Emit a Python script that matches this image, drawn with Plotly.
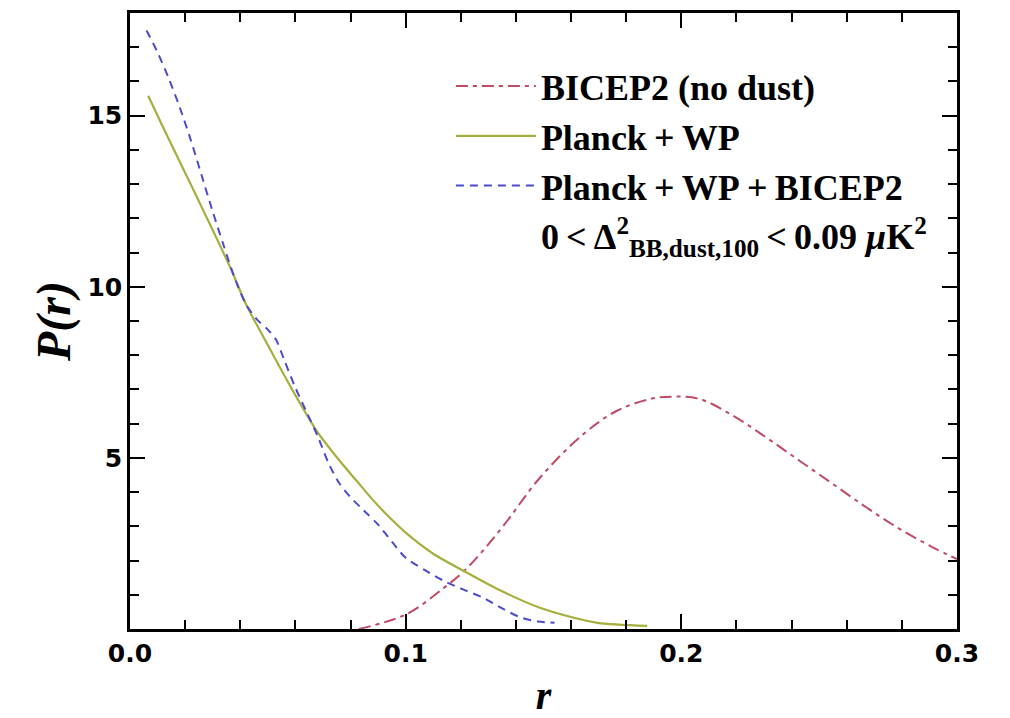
import plotly.graph_objects as go

# BICEP2 (no dust)
r_bicep = [0.083, 0.1002, 0.114, 0.1224, 0.1349, 0.1487, 0.1644, 0.1765, 0.1886, 0.197,
           0.2067, 0.2188, 0.2309, 0.243, 0.2551, 0.2672, 0.2793, 0.2914, 0.300]
p_bicep = [0.0, 0.43, 1.21, 1.79, 2.96, 4.42, 5.69, 6.37, 6.72, 6.79,
           6.72, 6.23, 5.59, 4.91, 4.23, 3.55, 2.92, 2.38, 2.04]

# Planck+WP
r_planck = [0.0066, 0.012, 0.017, 0.022, 0.027, 0.032, 0.037, 0.0423, 0.0483, 0.054,
            0.0605, 0.0677, 0.0762, 0.0822, 0.088, 0.094, 0.1002, 0.110, 0.121, 0.135,
            0.1487, 0.160, 0.1696, 0.1876]
p_planck = [15.58, 14.66, 13.83, 13.0, 12.16, 11.32, 10.45, 9.45, 8.55, 7.7,
            6.76, 5.79, 4.9, 4.33, 3.78, 3.27, 2.8, 2.2, 1.70, 1.1,
            0.62, 0.35, 0.18, 0.09]

# Planck+WP+BICEP2
r_comb = [0.006, 0.010, 0.014, 0.018, 0.022, 0.026, 0.030, 0.034, 0.038, 0.042,
          0.046, 0.050, 0.053, 0.056, 0.060, 0.064, 0.068, 0.072, 0.076, 0.080,
          0.085, 0.090, 0.095, 0.100, 0.107, 0.114, 0.121, 0.128, 0.135, 0.142,
          0.148, 0.154]
p_comb = [17.49, 16.85, 16.1, 15.25, 14.3, 13.25, 12.2, 11.2, 10.25, 9.5,
          9.05, 8.75, 8.45, 7.85, 7.05, 6.35, 5.65, 4.85, 4.25, 3.85,
          3.45, 3.05, 2.55, 2.08, 1.72, 1.40, 1.15, 0.92, 0.6, 0.33,
          0.22, 0.18]

x_ticks = [0.0, 0.1, 0.2, 0.3]
y_ticks = [5, 10, 15]

legend_names = ["BICEP2 (no dust)", "Planck\u2009+\u2009WP", "Planck\u2009+\u2009WP\u2009+\u2009BICEP2",
                "0\u2009<\u2009\u0394<sup>2</sup><sub>BB,dust,100</sub>\u2009<\u20090.09 <i>\u03bc</i>K<sup>2</sup>"]

fig = go.Figure()
fig.add_trace(go.Scatter(x=r_bicep, y=p_bicep, mode="lines", name=legend_names[0],
                         line=dict(color="#c04a66", width=2, dash="12px,5px,4px,5px", shape="spline")))
fig.add_trace(go.Scatter(x=r_planck, y=p_planck, mode="lines", name=legend_names[1],
                         line=dict(color="#a6ae3c", width=2.2, shape="spline", smoothing=0.8)))
fig.add_trace(go.Scatter(x=r_comb, y=p_comb, mode="lines", name=legend_names[2],
                         line=dict(color="#4b4bcc", width=2, dash="8px,6px", shape="spline", smoothing=0.8)))
fig.add_trace(go.Scatter(x=[None], y=[None], mode="lines", name=legend_names[3],
                         line=dict(color="rgba(0,0,0,0)", width=0)))

axis_common = dict(
    showgrid=False, zeroline=False, showline=True, linecolor="black", linewidth=2.5,
    mirror="ticks", ticks="inside", ticklen=15, tickwidth=2, tickcolor="black",
    tickfont=dict(family="DejaVu Sans", size=25, color="black", weight="bold"),
)

fig.update_layout(
    width=1002, height=710,
    margin=dict(l=122, r=53, t=2, b=89),
    paper_bgcolor="white", plot_bgcolor="white",
    xaxis=dict(range=[0, 0.3], tickvals=x_ticks, tickformat=".1f",
               minor=dict(ticks="inside", ticklen=9, tickwidth=2, tickcolor="black", dtick=0.02, tick0=0),
               title=dict(text="r", standoff=16,
                          font=dict(family="Liberation Serif", size=40, color="black", style="italic", weight="bold")),
               **axis_common),
    yaxis=dict(range=[0, 18.0], tickvals=y_ticks,
               minor=dict(ticks="inside", ticklen=9, tickwidth=2, tickcolor="black", dtick=1, tick0=0),
               title=dict(text="P(r)", standoff=2,
                          font=dict(family="Liberation Serif", size=48, color="black", style="italic", weight="bold")),
               **axis_common),
    legend=dict(x=0.388, y=0.93, xanchor="left", yanchor="top", bgcolor="rgba(0,0,0,0)",
                itemwidth=80, tracegroupgap=0,
                font=dict(family="Liberation Serif", size=36, color="black", weight="bold")),
    showlegend=True,
)

fig.write_html("out.html")
